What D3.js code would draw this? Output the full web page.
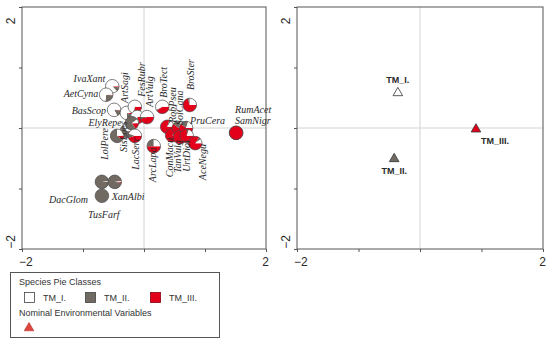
<!DOCTYPE html>
<html>
<head>
<meta charset="utf-8">
<script src="https://cdn.jsdelivr.net/npm/d3@7"></script>
<style>
  body { margin: 0; background: #fff; }
  svg { display: block; }
  .sp { font-family: "Liberation Serif", "DejaVu Serif", serif; font-style: italic; font-size: 10px; fill: #2a2a2a; }
  .ax { font-family: "Liberation Sans", Arial, sans-serif; font-size: 12px; fill: #2a2a2a; }
  .lg { font-family: "Liberation Sans", Arial, sans-serif; font-size: 9px; fill: #333; }
  .tm { font-family: "Liberation Sans", Arial, sans-serif; font-size: 9px; font-weight: bold; fill: #2a2a2a; }
</style>
</head>
<body>
<svg id="chart" width="550" height="341"></svg>
<script>
// species scores (axis 1, axis 2) and pie shares of the three classes
var species = ["SisLoes", "IvaXant", "AetCyna", "BasScop", "ArtSagi", "FesRubr", "", "ArtVulg", "ElyRepe",
  "LolPere", "LacSerr", "ArcLapa", "BroTect", "BroSter", "RobPseu", "ConMacu", "SolCana", "TanVulg",
  "PruCera", "UrtDioi", "AceNegu", "SamNigr", "RumAcet", "DacGlom", "XanAlbi", "TusFarf"];
var scoreX = [-0.28, -0.52, -0.62, -0.49, -0.28, -0.15, -0.11, 0.05, -0.20,
  -0.44, -0.15, 0.16, 0.30, 0.75, 0.38, 0.46, 0.57, 0.59,
  0.69, 0.70, 0.84, 1.51, 1.51, -0.69, -0.48, -0.69];
var scoreY = [-0.05, 0.69, 0.55, 0.30, 0.25, 0.35, 0.18, 0.18, 0.08,
  -0.13, -0.13, -0.30, 0.35, 0.38, 0.02, -0.12, 0.00, -0.15,
  0.00, -0.13, -0.25, -0.08, -0.08, -0.89, -0.89, -1.12];
var shareI   = [0.35, 0.87, 0.73, 0.83, 0.75, 0.70, 0.70, 0.50, 0.10,
  0.25, 0.45, 0.25, 0.57, 0.25, 0.15, 0.05, 0.20, 0.02,
  0.20, 0.20, 0.10, 0.00, 0.00, 0.02, 0.02, 0.00];
var shareII  = [0.60, 0.10, 0.25, 0.15, 0.20, 0.05, 0.10, 0.05, 0.75,
  0.65, 0.10, 0.25, 0.03, 0.05, 0.05, 0.05, 0.20, 0.03,
  0.20, 0.05, 0.05, 0.00, 0.00, 0.98, 0.95, 1.00];
var shareIII = [0.05, 0.03, 0.02, 0.02, 0.05, 0.25, 0.20, 0.45, 0.15,
  0.10, 0.45, 0.50, 0.40, 0.70, 0.80, 0.90, 0.60, 0.95,
  0.60, 0.75, 0.85, 1.00, 1.00, 0.00, 0.03, 0.00];

// nominal environmental variables (centroids)
var envNames = ["TM_I.", "TM_II.", "TM_III."];
var envX = [-0.36, -0.42, 0.91];
var envY = [0.58, -0.51, -0.02];

var classNames = ["TM_I.", "TM_II.", "TM_III."];
var classColors = ["#ffffff", "#716a62", "#e2001a"];

// label placement relative to the pie centre (px)
var labelPos = {
  IvaXant: [-7, -4, 0], AetCyna: [-8, 2, 0], BasScop: [-8, 4, 0], ElyRepe: [-10, 3, 0],
  PruCera: [4, -4, 0, "start"], RumAcet: [-1, -20, 0, "start"], SamNigr: [-1, -9, 0, "start"],
  DacGlom: [-14, 21, 0], XanAlbi: [-3, 18, 0, "start"], TusFarf: [-14, 22, 0, "start"],
  ArtSagi: [1.5, -10, 1], FesRubr: [10.5, -10, 1], ArtVulg: [5.5, -10, 1], BroTect: [4.5, -9, 1],
  BroSter: [4.5, -15, 1], RobPseu: [8.5, -4, 1], SolCana: [4.5, -3, 1], LolPere: [-9.5, 24, 1],
  SisLoes: [0.5, 21, 1], LacSerr: [4.5, 34, 1], ArcLapa: [2.5, 36, 1], ConMacu: [0.5, 42, 1],
  TanVulg: [1.5, 36, 1], UrtDioi: [3.5, 36, 1], AceNegu: [10.5, 37, 1]
};

var svg = d3.select("#chart");

var yS = d3.scaleLinear().domain([-2, 2]).range([249, 7]);
var xL = d3.scaleLinear().domain([-2, 2]).range([22, 266]);
var xR = d3.scaleLinear().domain([-2, 2]).range([297, 543]);

function panel(x) {
  var g = svg.append("g");
  g.append("line").attr("x1", x(0)).attr("x2", x(0)).attr("y1", yS(2)).attr("y2", yS(-2))
    .attr("stroke", "#d4d4d4");
  g.append("line").attr("x1", x(-2)).attr("x2", x(2)).attr("y1", yS(0)).attr("y2", yS(0))
    .attr("stroke", "#d4d4d4");

  var ticks = [-2, -1, 0, 1, 2];
  g.append("g").attr("transform", "translate(0," + yS(-2) + ")")
    .call(d3.axisBottom(x).tickValues(ticks).tickSize(3).tickFormat(""))
    .call(a => a.select(".domain").remove())
    .selectAll("line").attr("stroke", "#555");
  g.append("g").attr("transform", "translate(" + x(-2) + ",0)")
    .call(d3.axisLeft(yS).tickValues(ticks).tickSize(3).tickFormat(""))
    .call(a => a.select(".domain").remove())
    .selectAll("line").attr("stroke", "#555");

  g.append("rect").attr("x", x(-2)).attr("y", yS(2))
    .attr("width", x(2) - x(-2)).attr("height", yS(-2) - yS(2))
    .attr("fill", "none").attr("stroke", "#555").attr("stroke-width", 1);

  var fmt = d3.format("d");
  g.append("text").attr("class", "ax").attr("x", x(-2) - 3).attr("y", yS(-2) + 17)
    .text(fmt(-2));
  g.append("text").attr("class", "ax").attr("x", x(2) + 3).attr("y", yS(-2) + 17)
    .attr("text-anchor", "end").text(fmt(2));
  g.append("text").attr("class", "ax")
    .attr("transform", "translate(" + (x(-2) - 7) + "," + (yS(2) + 14) + ") rotate(-90)")
    .attr("text-anchor", "middle").text(fmt(2));
  g.append("text").attr("class", "ax")
    .attr("transform", "translate(" + (x(-2) - 7) + "," + (yS(-2) - 7) + ") rotate(-90)")
    .attr("text-anchor", "middle").text(fmt(-2));
  return g;
}

var left = panel(xL);
var right = panel(xR);

// pies: start at 3 o'clock, clockwise, TM_III first, then TM_II, then TM_I
var r = 6.8;
var pie = d3.pie().sort(null).value(d => d.v)
  .startAngle(Math.PI / 2).endAngle(Math.PI / 2 + 2 * Math.PI);
var arc = d3.arc().innerRadius(0).outerRadius(r);

var pies = species.map((s, i) => ({
  name: s, x: scoreX[i], y: scoreY[i],
  parts: [
    { c: classColors[2], v: shareIII[i] },
    { c: classColors[1], v: shareII[i] },
    { c: classColors[0], v: shareI[i] }
  ]
}));

var pg = left.selectAll("g.pie").data(pies).enter().append("g")
  .attr("class", "pie")
  .attr("transform", d => "translate(" + xL(d.x) + "," + yS(d.y) + ")");
pg.selectAll("path").data(d => pie(d.parts.filter(p => p.v > 0))).enter().append("path")
  .attr("d", arc).attr("fill", d => d.data.c);
pg.append("circle").attr("r", r).attr("fill", "none").attr("stroke", "#4a4a4a").attr("stroke-width", 0.7);

// species labels
left.selectAll("text.sp").data(pies.filter(d => labelPos[d.name])).enter().append("text")
  .attr("class", "sp")
  .attr("text-anchor", d => labelPos[d.name][3] || (labelPos[d.name][2] ? "start" : "end"))
  .attr("transform", d => {
    var p = labelPos[d.name];
    var t = "translate(" + (xL(d.x) + p[0]) + "," + (yS(d.y) + p[1]) + ")";
    return p[2] ? t + " rotate(-90)" : t;
  })
  .text(d => d.name);

// environmental centroids
var tri = d3.symbol().type(d3.symbolTriangle).size(40);
var envColors = ["#ffffff", "#716a62", "#e2001a"];
var envLabelDy = [-10, 15, 15];
var envLabelDx = [0, 0, 19];
envNames.forEach((n, i) => {
  right.append("path").attr("d", tri)
    .attr("transform", "translate(" + xR(envX[i]) + "," + yS(envY[i]) + ")")
    .attr("fill", envColors[i]).attr("stroke", "#333").attr("stroke-width", 0.8);
  right.append("text").attr("class", "tm").attr("text-anchor", "middle")
    .attr("x", xR(envX[i]) + envLabelDx[i]).attr("y", yS(envY[i]) + envLabelDy[i])
    .text(n);
});

// legend
var lg = svg.append("g");
lg.append("rect").attr("x", 10.5).attr("y", 272.5).attr("width", 209).attr("height", 65)
  .attr("fill", "#fff").attr("stroke", "#555").attr("stroke-width", 1);
lg.append("text").attr("class", "lg").attr("x", 19).attr("y", 285).text("Species Pie Classes");
var legX = [24, 85, 150];
classNames.forEach((n, i) => {
  lg.append("rect").attr("x", legX[i] + 0.5).attr("y", 292.5).attr("width", 10).attr("height", 10)
    .attr("fill", classColors[i]).attr("stroke", i === 2 ? "#8a0010" : "#444").attr("stroke-width", 0.8);
  lg.append("text").attr("class", "lg").attr("x", legX[i] + 19).attr("y", 301).text(n);
});
lg.append("text").attr("class", "lg").attr("x", 19).attr("y", 316).text("Nominal Environmental Variables");
lg.append("path").attr("d", d3.symbol().type(d3.symbolTriangle).size(40))
  .attr("transform", "translate(29,328)")
  .attr("fill", "#e0463e").attr("stroke", "#b0302a").attr("stroke-width", 0.6);
</script>
</body>
</html>
